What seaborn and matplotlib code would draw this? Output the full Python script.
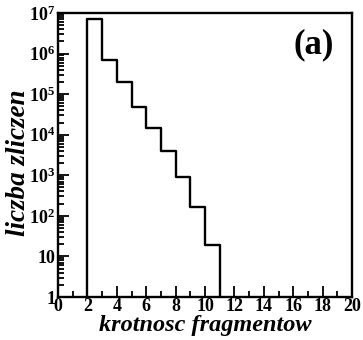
import numpy as np
import matplotlib
matplotlib.use('Agg')
import matplotlib.pyplot as plt
from matplotlib.ticker import FixedLocator, LogLocator, NullFormatter
import seaborn as sns

# multiplicity bins (left edges) and counts
krotnosc = [2, 3, 4, 5, 6, 7, 8, 9, 10]
zliczenia = [7.1e6, 6.9e5, 2.0e5, 4.9e4, 1.45e4, 4.0e3, 930, 168, 19]
x_ticks = list(range(0, 21, 2))
y_ticks = [1, 10, 1e2, 1e3, 1e4, 1e5, 1e6, 1e7]
y_labels = ['1', '10', r'$10^{2}$', r'$10^{3}$', r'$10^{4}$', r'$10^{5}$', r'$10^{6}$', r'$10^{7}$']

sns.set_style('ticks')
plt.rcParams['font.family'] = ['Liberation Serif', 'DejaVu Serif']
plt.rcParams['font.weight'] = 'bold'
plt.rcParams['text.color'] = 'black'
plt.rcParams['axes.labelcolor'] = 'black'
plt.rcParams['xtick.color'] = 'black'
plt.rcParams['ytick.color'] = 'black'
plt.rcParams['mathtext.fontset'] = 'custom'
plt.rcParams['mathtext.rm'] = 'Liberation Serif:bold'
plt.rcParams['mathtext.it'] = 'Liberation Serif:bold:italic'
plt.rcParams['mathtext.bf'] = 'Liberation Serif:bold'

fig = plt.figure(figsize=(3.63, 3.40), dpi=100)
ax = fig.add_axes([58 / 363, 1 - 297 / 340, 294 / 363, 284 / 340])

sns.histplot(x=krotnosc, weights=zliczenia, binwidth=1, binrange=(krotnosc[0], krotnosc[-1] + 1),
             element='step', fill=False, color='black', linewidth=1.7, ax=ax)
ax.set_yscale('log')
# close the outline down to the axis
ax.vlines([krotnosc[0], krotnosc[-1] + 1], 1, [zliczenia[0], zliczenia[-1]], color='black', linewidth=1.7)

ax.set_xlim(0, 20)
ax.set_ylim(1, 1e7)
ax.xaxis.set_major_locator(FixedLocator(x_ticks))
ax.xaxis.set_minor_locator(FixedLocator(list(range(1, 20, 2))))
ax.set_xticklabels([str(t) for t in x_ticks], fontsize=13, fontweight='bold')
ax.yaxis.set_major_locator(FixedLocator(y_ticks))
ax.yaxis.set_minor_locator(LogLocator(base=10, subs=np.arange(2, 10)))
ax.yaxis.set_minor_formatter(NullFormatter())
ax.set_yticklabels(y_labels, fontsize=13, fontweight='bold')

ax.tick_params(which='both', direction='in', top=False, right=False, width=1.3, pad=2)
ax.tick_params(axis='x', pad=1)
ax.tick_params(which='major', length=8)
ax.tick_params(which='minor', length=4)
for s in ax.spines.values():
    s.set_linewidth(1.7)
    s.set_color('black')

ax.set_xlabel('krotnosc fragmentow', fontsize=17.5, fontweight='bold', fontstyle='italic', labelpad=0)
ax.set_ylabel('liczba zliczen', fontsize=19.5, fontweight='bold', fontstyle='italic')
ax.yaxis.set_label_coords(-0.092, 0.472)
ax.text(0.939, 0.887, '(a)', transform=ax.transAxes, ha='right', va='center', fontsize=25, fontweight='bold')

fig.savefig('out.png', dpi=100)
